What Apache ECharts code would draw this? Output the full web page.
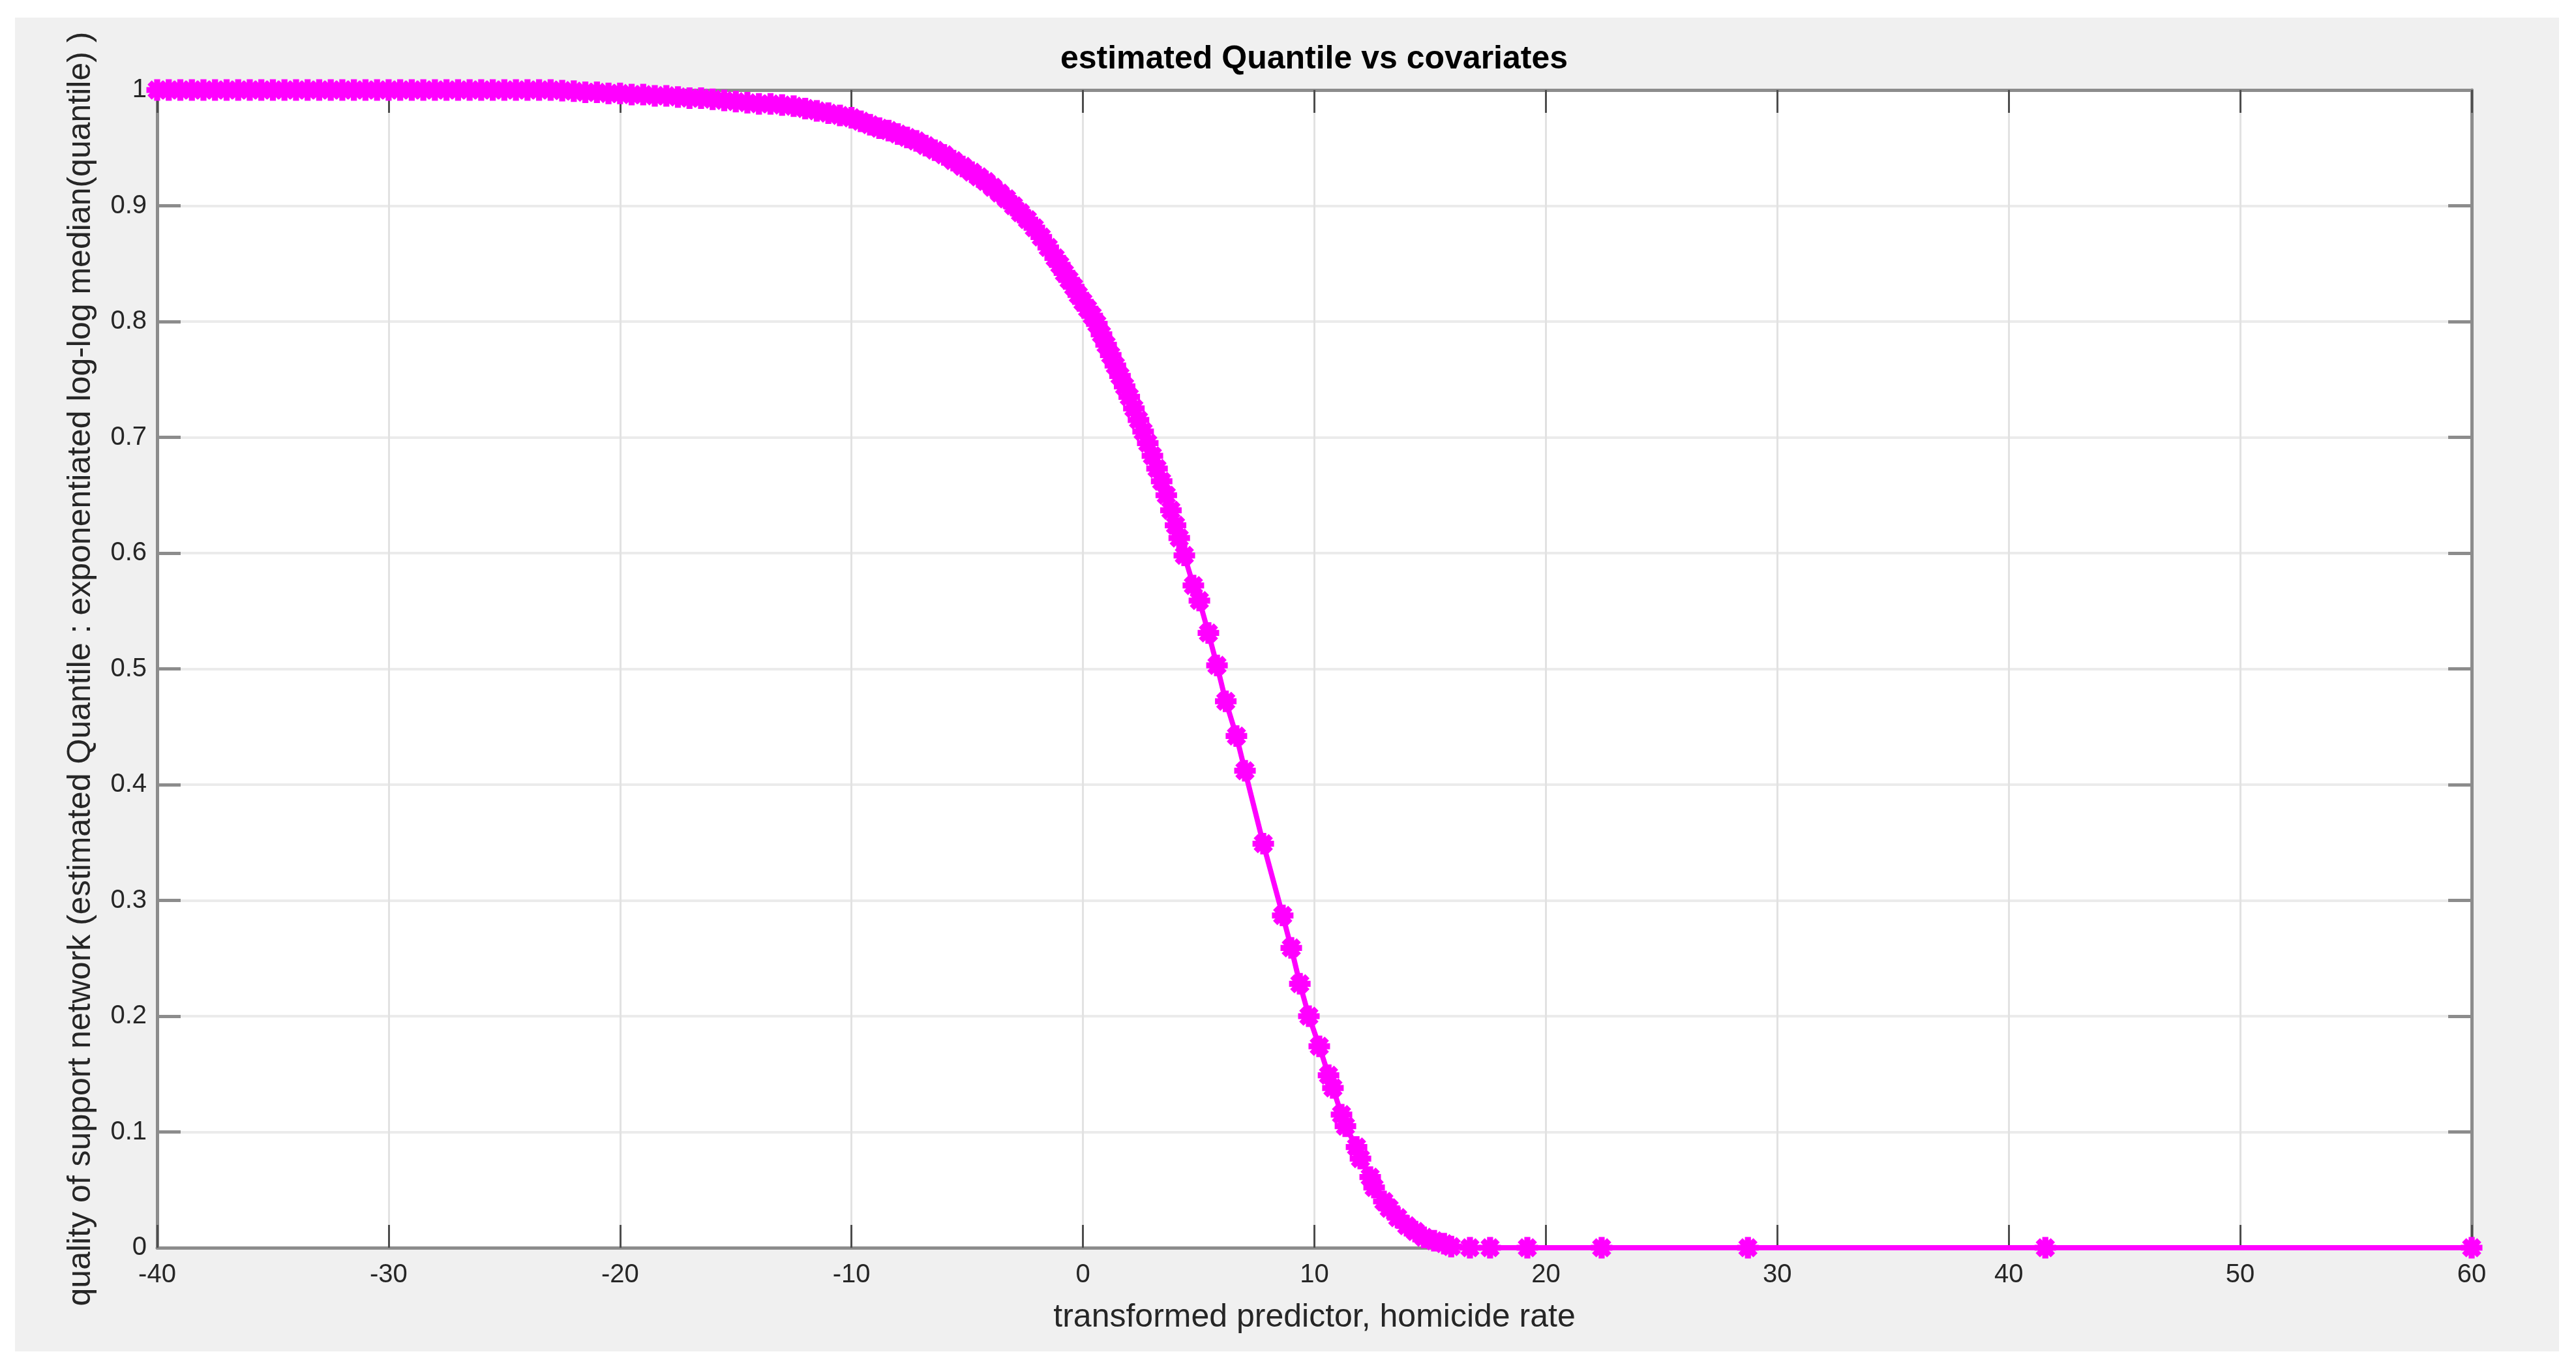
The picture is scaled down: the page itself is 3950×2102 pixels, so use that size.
<!DOCTYPE html>
<html>
<head>
<meta charset="utf-8">
<script src="https://cdn.jsdelivr.net/npm/echarts@6/dist/echarts.min.js"></script>
<style>
  html, body { margin: 0; padding: 0; background: #fff; }
  #panel { position: absolute; left: 23px; top: 27px; width: 3901px; height: 2045px; background: #f0f0f0; }
  #chart { position: absolute; left: 0; top: 0; width: 3950px; height: 2102px; }
</style>
</head>
<body>
<div id="panel"></div>
<div id="chart"></div>
<script>
// values
const xValues = [
  -40, -39.5, -39, -38.5, -38, -37.5, -37, -36.5, -36, -35.5, -35, -34.5,
  -34, -33.5, -33, -32.5, -32, -31.5, -31, -30.5, -30, -29.5, -29, -28.5,
  -28, -27.5, -27, -26.5, -26, -25.5, -25, -24.5, -24, -23.5, -23, -22.5,
  -22, -21.5, -21, -20.5, -20, -19.5, -19, -18.5, -18, -17.5, -17, -16.5,
  -16, -15.5, -15, -14.5, -14, -13.5, -13, -12.5, -12, -11.5, -11, -10.5,
  -10, -9.6, -9.2, -8.8, -8.4, -8.0, -7.6, -7.2, -6.8, -6.4, -6.0, -5.6,
  -5.2, -4.8, -4.5, -4.2, -3.9, -3.6, -3.3, -3.0, -2.7, -2.4, -2.1, -1.8,
  -1.5, -1.2, -1.0, -0.8, -0.6, -0.4, -0.2, 0.0, 0.2, 0.4, 0.6, 0.8,
  1.0, 1.2, 1.4, 1.6, 1.8, 2.0, 2.2, 2.4, 2.6, 2.8, 3.0, 3.2,
  3.4, 3.6, 3.8, 4.0, 4.16, 4.38, 4.77, 5.03, 5.42, 5.79, 6.17, 6.63,
  7.0, 7.79, 8.63, 9.0, 9.37, 9.76, 10.21, 10.61, 10.8, 11.17, 11.34, 11.82,
  11.99, 12.41, 12.58, 13.0, 13.23, 13.6, 13.99, 14.36, 14.73, 15.17, 15.6, 15.91,
  16.72, 17.59, 19.2, 22.41, 28.73, 41.58, 60
]
const quantileValues = [
  1, 1, 1, 1, 1, 1, 1, 1, 1, 1, 1, 1,
  1, 1, 1, 1, 1, 1, 1, 1, 1, 1, 1, 1,
  1, 1, 1, 1, 1, 1, 1, 1, 1, 1, 1, 0.9995,
  0.999, 0.998, 0.998, 0.997, 0.997, 0.996, 0.996, 0.995, 0.995, 0.994, 0.993, 0.993,
  0.992, 0.991, 0.990, 0.989, 0.988, 0.988, 0.987, 0.986, 0.984, 0.982, 0.980, 0.978,
  0.976, 0.973, 0.970, 0.967, 0.965, 0.962, 0.959, 0.956, 0.952, 0.948, 0.944, 0.939,
  0.934, 0.929, 0.925, 0.921, 0.916, 0.911, 0.906, 0.900, 0.894, 0.888, 0.881, 0.873,
  0.864, 0.855, 0.849, 0.842, 0.836, 0.830, 0.823, 0.817, 0.811, 0.805, 0.798, 0.789,
  0.780, 0.771, 0.762, 0.753, 0.744, 0.735, 0.725, 0.715, 0.705, 0.695, 0.684, 0.673,
  0.662, 0.650, 0.637, 0.624, 0.613, 0.598, 0.572, 0.559, 0.531, 0.503, 0.472, 0.442,
  0.412, 0.349, 0.287, 0.259, 0.228, 0.200, 0.174, 0.149, 0.138, 0.115, 0.105, 0.087,
  0.077, 0.061, 0.052, 0.040, 0.034, 0.026, 0.019, 0.014, 0.009, 0.006, 0.0035, 0.001,
  0, 0, 0, 0, 0, 0, 0
]

const titleText = 'estimated Quantile vs covariates'
const xName = 'transformed predictor, homicide rate'
const yName = 'quality of support network (estimated Quantile : exponentiated log-log median(quantile) )'

const font = '"Liberation Sans", Arial, Helvetica, sans-serif'
const magenta = '#ff00ff'

// matlab style '*' marker
const asterisk = 'path://M0 36 L100 36 L100 64 L0 64 Z M36 0 L64 0 L64 100 L36 100 Z ' +
  'M24.9 5.1 L94.9 75.1 L75.1 94.9 L5.1 24.9 Z M75.1 5.1 L94.9 24.9 L24.9 94.9 L5.1 75.1 Z'

const chart = echarts.init(document.getElementById('chart'))

const boxLine = { show: true, onZero: false, lineStyle: { color: '#8c8c8c', width: 5 } }
const xTick = { show: true, inside: true, length: 35, lineStyle: { color: '#4d4d4d', width: 3 } }
const yTick = { show: true, inside: true, length: 36, lineStyle: { color: '#8c8c8c', width: 5 } }

chart.setOption({
  backgroundColor: 'transparent',
  animation: false,
  title: {
    text: titleText,
    left: 2015,
    textAlign: 'center',
    top: 66,
    padding: 0,
    textStyle: { fontFamily: font, fontSize: 50, fontWeight: 'bold', color: '#000' },
  },
  grid: {
    left: 241, right: 160, top: 138, bottom: 189,
    show: true, backgroundColor: '#fff', borderWidth: 0,
  },
  xAxis: [
    {
      type: 'value', min: -40, max: 60, interval: 10,
      axisLine: boxLine, axisTick: xTick,
      splitLine: { show: true, lineStyle: { color: '#e2e2e2', width: 3 } },
      axisLabel: { fontFamily: font, fontSize: 40, color: '#262626', margin: 22 },
      name: xName, nameLocation: 'middle', nameGap: 82,
      nameTextStyle: { fontFamily: font, fontSize: 50, color: '#262626' },
    },
    {
      type: 'value', min: -40, max: 60, interval: 10, position: 'top',
      axisLine: boxLine, axisTick: xTick,
      splitLine: { show: false }, axisLabel: { show: false },
    },
  ],
  yAxis: [
    {
      type: 'value', min: 0, max: 1, interval: 0.1,
      axisLine: boxLine, axisTick: yTick,
      splitLine: { show: true, lineStyle: { color: '#ebebeb', width: 4 } },
      axisLabel: { fontFamily: font, fontSize: 40, color: '#262626', margin: 16 },
      name: yName, nameLocation: 'middle', nameGap: 92,
      nameTextStyle: { fontFamily: font, fontSize: 50, color: '#262626' },
    },
    {
      type: 'value', min: 0, max: 1, interval: 0.1, position: 'right',
      axisLine: boxLine, axisTick: yTick,
      splitLine: { show: false }, axisLabel: { show: false },
    },
  ],
  series: [
    {
      type: 'line',
      data: xValues.map((x, i) => [x, quantileValues[i]]),
      symbol: asterisk,
      symbolSize: 33,
      showAllSymbol: true,
      clip: false,
      lineStyle: { color: magenta, width: 8 },
      itemStyle: { color: magenta },
    },
  ],
})
</script>
</body>
</html>
